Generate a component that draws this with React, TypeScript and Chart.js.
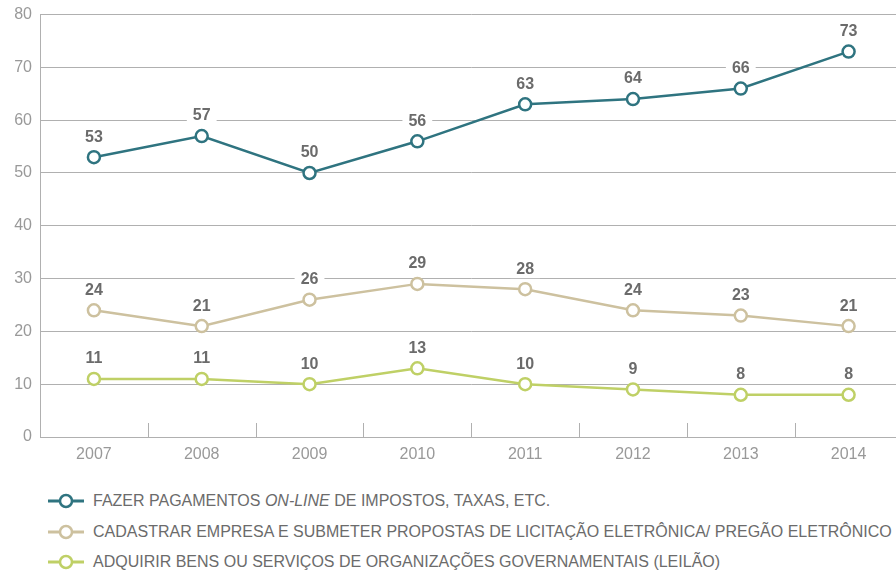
import React, { useEffect, useRef } from "react";
import { Chart, registerables } from "chart.js";

Chart.register(...registerables);

const years = ["2007", "2008", "2009", "2010", "2011", "2012", "2013", "2014"];
const pagamentos = [53, 57, 50, 56, 63, 64, 66, 73];
const cadastrar = [24, 21, 26, 29, 28, 24, 23, 21];
const adquirir = [11, 11, 10, 13, 10, 9, 8, 8];
const yTicks = [0, 10, 20, 30, 40, 50, 60, 70, 80];

const COLORS = ["#2f7480", "#cdc19f", "#bfd066"];
const FONT = "'Liberation Sans', Arial, sans-serif";

const valueLabels = {
  id: "valueLabels",
  afterDatasetsDraw(chart: any) {
    const ctx = chart.ctx;
    ctx.save();
    ctx.font = `bold 16px ${FONT}`;
    ctx.textAlign = "center";
    ctx.textBaseline = "middle";
    chart.data.datasets.forEach((ds: any, i: number) => {
      const meta = chart.getDatasetMeta(i);
      meta.data.forEach((pt: any, j: number) => {
        const txt = String(ds.data[j]);
        const w = ctx.measureText(txt).width + 12;
        const x = pt.x;
        const y = pt.y - 21;
        ctx.fillStyle = "#ffffff";
        ctx.fillRect(x - w / 2, y - 10, w, 20);
        ctx.fillStyle = "#6b6b6b";
        ctx.fillText(txt, x, y + 1);
      });
    });
    ctx.restore();
  },
};

const innerTicks = {
  id: "innerTicks",
  afterDraw(chart: any) {
    const xs = chart.scales.x;
    const ctx = chart.ctx;
    const bottom = chart.chartArea.bottom;
    ctx.save();
    ctx.strokeStyle = "#b0b0b0";
    ctx.lineWidth = 1;
    for (let i = 0; i < years.length - 1; i++) {
      const a = xs.getPixelForValue(i);
      const b = xs.getPixelForValue(i + 1);
      const x = Math.round((a + b) / 2) + 0.5;
      ctx.beginPath();
      ctx.moveTo(x, bottom);
      ctx.lineTo(x, bottom - 14);
      ctx.stroke();
    }
    ctx.restore();
  },
};

function LegendItem({ color, children }: { color: string; children: React.ReactNode }) {
  return (
    <div style={{ display: "flex", alignItems: "center", height: 30.5 }}>
      <svg width="36" height="16" style={{ marginRight: 9 }}>
        <line x1="0" y1="8" x2="36" y2="8" stroke={color} strokeWidth="3" />
        <circle cx="18" cy="8" r="6" fill="#fff" stroke={color} strokeWidth="2.5" />
      </svg>
      <span>{children}</span>
    </div>
  );
}

export default function App() {
  const ref = useRef<HTMLCanvasElement>(null);

  useEffect(() => {
    document.body.style.margin = "0";
    const mk = (label: string, data: number[], c: string) => ({
      label,
      data,
      borderColor: c,
      backgroundColor: "#ffffff",
      pointBackgroundColor: "#ffffff",
      pointBorderColor: c,
      pointRadius: 6,
      pointBorderWidth: 2.5,
      borderWidth: 2.5,
      tension: 0,
    });
    const chart = new Chart(ref.current!, {
      type: "line",
      data: {
        labels: years,
        datasets: [
          mk("FAZER PAGAMENTOS ON-LINE DE IMPOSTOS, TAXAS, ETC.", pagamentos, COLORS[0]),
          mk("CADASTRAR EMPRESA E SUBMETER PROPOSTAS DE LICITAÇÃO ELETRÔNICA/ PREGÃO ELETRÔNICO", cadastrar, COLORS[1]),
          mk("ADQUIRIR BENS OU SERVIÇOS DE ORGANIZAÇÕES GOVERNAMENTAIS (LEILÃO)", adquirir, COLORS[2]),
        ],
      },
      options: {
        animation: false,
        responsive: false,
        layout: { padding: { top: 12, right: 0, left: 0, bottom: 0 } },
        plugins: { legend: { display: false }, tooltip: { enabled: false } },
        scales: {
          x: {
            offset: true,
            grid: { display: false, drawTicks: false },
            border: { display: true, color: "#b0b0b0", width: 1 },
            ticks: { color: "#999999", font: { family: FONT, size: 16 }, padding: 8 },
            afterFit(s: any) {
              s.height = 33;
            },
          },
          y: {
            min: 0,
            max: 80,
            afterBuildTicks(s: any) {
              s.ticks = yTicks.map((v) => ({ value: v }));
            },
            grid: { color: "#b0b0b0", lineWidth: 1, drawTicks: false },
            border: { display: true, color: "#b0b0b0", width: 1 },
            ticks: { color: "#999999", font: { family: FONT, size: 16 }, padding: 8 },
            afterFit(s: any) {
              s.width = 40;
            },
          },
        },
      },
      plugins: [innerTicks, valueLabels],
    });
    return () => chart.destroy();
  }, []);

  return (
    <div style={{ position: "relative", width: 896, height: 571, overflow: "hidden" }}>
      <canvas
        ref={ref}
        width={911}
        height={473}
        style={{ display: "block", position: "absolute", left: 0, top: -3 }}
      />
      <div
        style={{
          position: "absolute",
          left: 48,
          top: 486,
          fontFamily: FONT,
          fontSize: 16,
          color: "#6b6b6b",
          whiteSpace: "nowrap",
        }}
      >
        <LegendItem color={COLORS[0]}>
          FAZER PAGAMENTOS <i>ON-LINE</i> DE IMPOSTOS, TAXAS, ETC.
        </LegendItem>
        <LegendItem color={COLORS[1]}>
          CADASTRAR EMPRESA E SUBMETER PROPOSTAS DE LICITAÇÃO ELETRÔNICA/ PREGÃO ELETRÔNICO
        </LegendItem>
        <LegendItem color={COLORS[2]}>
          ADQUIRIR BENS OU SERVIÇOS DE ORGANIZAÇÕES GOVERNAMENTAIS (LEILÃO)
        </LegendItem>
      </div>
    </div>
  );
}
